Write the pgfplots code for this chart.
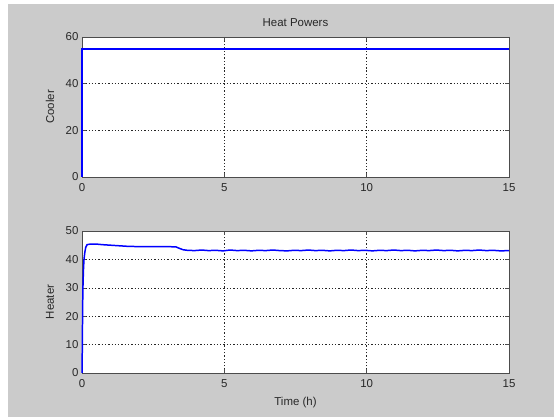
\documentclass[border=0pt]{standalone}
\usepackage{pgfplots}
\pgfplotsset{compat=1.18}
\usepackage{fontspec}
\setmainfont{Liberation Sans}
\definecolor{figgray}{RGB}{203,203,203}
\definecolor{linblue}{RGB}{0,0,255}
\definecolor{txt}{RGB}{40,40,40}

\pgfplotsset{
  panel/.style={
    scale only axis,
    width=427bp,
    xmin=0, xmax=15,
    xtick={0,5,10,15},
    tick align=inside,
    major tick length=4bp,
    axis background/.style={fill=white},
    axis line style={draw=black!70, line width=0.6pt},
    every tick/.style={black!70, line width=0.6pt},
    grid=major,
    major grid style={black!85, dash pattern=on 1.3pt off 2pt, line width=0.6pt},
    tick label style={font=\fontsize{11.5}{13}\selectfont, text=txt},
    xticklabel style={yshift=-3bp},
    label style={font=\fontsize{11.5}{13}\selectfont, text=txt},
    /pgf/number format/assume math mode=true,
    clip=false,
  },
}

\begin{document}
\begin{tikzpicture}
  % window background
  \fill[white] (0bp,0bp) rectangle (554bp,417bp);
  \fill[figgray] (8bp,0bp) rectangle (554bp,413bp);

  % upper panel: cooler power
  \begin{axis}[panel,
    at={(82bp,240bp)}, anchor=south west,
    height=140bp,
    ymin=0, ymax=60, ytick={0,20,40,60},
    ylabel={Cooler},
    ylabel style={at={(axis description cs:-0.075,0.5)}, anchor=center},
    title={Heat Powers},
    title style={font=\fontsize{11.5}{13}\selectfont, text=txt, at={(axis description cs:0.5,1.105)}, anchor=center, yshift=-6bp},
  ]
    \addplot[linblue, line width=1.4pt] coordinates {
      (0,0) (0,54.8) (15,54.8)
    };
  \end{axis}

  % lower panel: heater power
  \begin{axis}[panel,
    at={(82bp,44bp)}, anchor=south west,
    height=142bp,
    ymin=0, ymax=50, ytick={0,10,20,30,40,50},
    ylabel={Heater},
    ylabel style={at={(axis description cs:-0.075,0.5)}, anchor=center},
    xlabel={Time (h)},
    xlabel style={at={(axis description cs:0.5,-0.21)}, anchor=center},
  ]
    \addplot[linblue, line width=1.5pt] coordinates {
      (0,0) (0.01,8) (0.02,20) (0.03,29) (0.05,36) (0.07,40) (0.10,42.5)
      (0.13,44.2) (0.18,45.2) (0.30,45.4) (0.50,45.4) (0.70,45.2)
      (1.00,45.0) (1.30,44.8) (1.60,44.6) (2.00,44.5) (2.50,44.5)
      (3.00,44.5) (3.30,44.4) (3.42,43.9) (3.55,43.4) (3.70,43.2)
      (3.95,43.1) (4.20,43.3) (4.45,43.1) (4.70,43.2) (4.95,43.0)
      (5.20,43.3) (5.45,43.1) (5.70,43.2) (5.95,43.0) (6.20,43.2)
      (6.45,43.1) (6.70,43.3) (6.95,43.1) (7.20,43.0) (7.45,43.2)
      (7.70,43.1) (7.95,43.3) (8.20,43.1) (8.45,43.2) (8.70,43.0)
      (8.95,43.2) (9.20,43.1) (9.45,43.3) (9.70,43.1) (9.95,43.2)
      (10.20,43.0) (10.45,43.2) (10.70,43.1) (10.95,43.3) (11.20,43.1)
      (11.45,43.2) (11.70,43.0) (11.95,43.2) (12.20,43.1) (12.45,43.3)
      (12.70,43.1) (12.95,43.2) (13.20,43.0) (13.45,43.2) (13.70,43.1)
      (13.95,43.3) (14.20,43.1) (14.45,43.2) (14.70,43.0) (15.00,43.1)
    };
  \end{axis}
\end{tikzpicture}
\end{document}
